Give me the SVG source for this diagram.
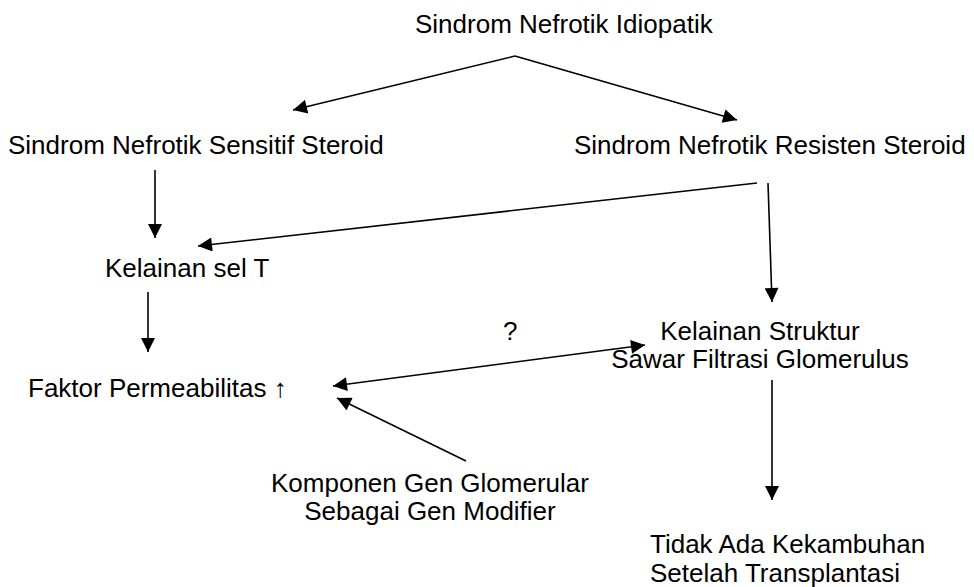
<svg xmlns="http://www.w3.org/2000/svg" width="974" height="587" viewBox="0 0 974 587">
<style>
text { font-family: "Liberation Sans", Arial, sans-serif; font-size: 26px; fill: #000; }
.c { text-anchor: middle; }
.ln { stroke: #000; stroke-width: 1.6; fill: none; }
</style>
<defs>
<marker id="ah" viewBox="0 0 10 10" refX="10" refY="5" markerWidth="15" markerHeight="14" markerUnits="userSpaceOnUse" orient="auto-start-reverse">
<path d="M0,0 L10,5 L0,10 z" fill="#000"/>
</marker>
</defs>
<rect width="974" height="587" fill="#fff"/>
<g id="n-idiopatik"><text x="415" y="33">Sindrom Nefrotik Idiopatik</text></g>
<g id="n-sensitif"><text x="8" y="154">Sindrom Nefrotik Sensitif Steroid</text></g>
<g id="n-resisten"><text x="574" y="154">Sindrom Nefrotik Resisten Steroid</text></g>
<g id="n-selT"><text x="105" y="277">Kelainan sel T</text></g>
<g id="n-faktor"><text x="28" y="397">Faktor Permeabilitas ↑</text></g>
<g id="n-struktur"><text class="c" x="760" y="340">Kelainan Struktur</text><text class="c" x="760" y="368">Sawar Filtrasi Glomerulus</text></g>
<g id="n-komponen"><text class="c" x="430" y="492">Komponen Gen Glomerular</text><text class="c" x="430" y="520">Sebagai Gen Modifier</text></g>
<g id="n-tidak"><text x="650" y="553">Tidak Ada Kekambuhan</text><text x="650" y="582">Setelah Transplantasi</text></g>
<g id="connectors">
<line class="ln" x1="515" y1="56" x2="293" y2="110" marker-end="url(#ah)"/>
<line class="ln" x1="515" y1="56" x2="737" y2="120" marker-end="url(#ah)"/>
<line class="ln" x1="155" y1="170" x2="155" y2="238" marker-end="url(#ah)"/>
<line class="ln" x1="757" y1="183" x2="198" y2="246" marker-end="url(#ah)"/>
<line class="ln" x1="768" y1="183" x2="772" y2="302" marker-end="url(#ah)"/>
<line class="ln" x1="148" y1="292" x2="148" y2="352" marker-end="url(#ah)"/>
<line class="ln" x1="333" y1="386" x2="645" y2="345" marker-start="url(#ah)" marker-end="url(#ah)"/>
<line class="ln" x1="466" y1="461" x2="337" y2="398" marker-end="url(#ah)"/>
<line class="ln" x1="772" y1="380" x2="772" y2="500" marker-end="url(#ah)"/>
<text x="503" y="340">?</text>
</g>
</svg>
